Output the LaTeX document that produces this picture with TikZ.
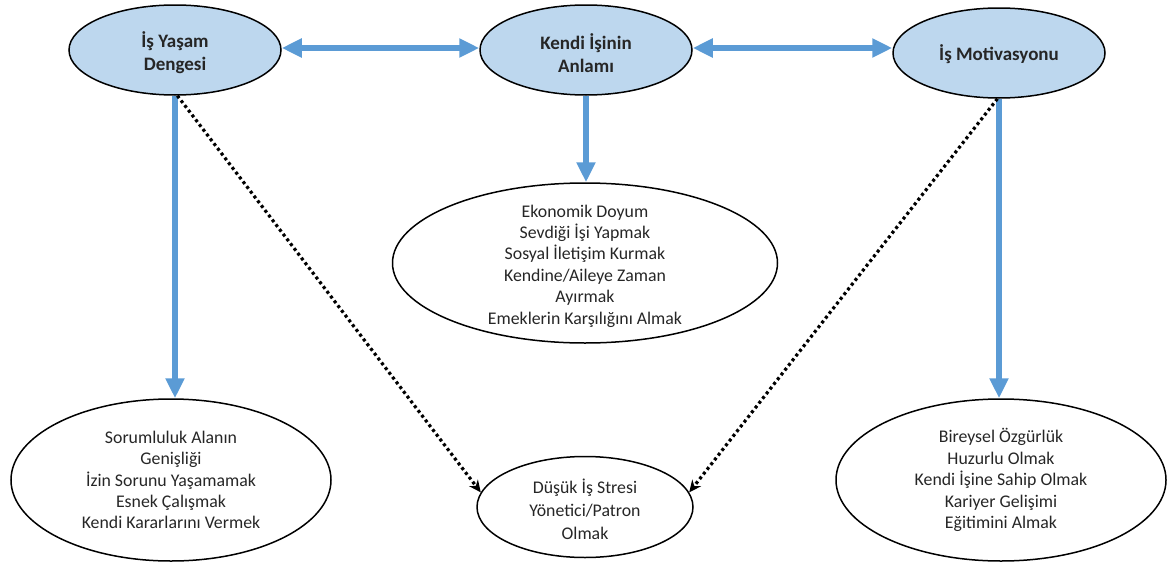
\documentclass[tikz,border=0pt]{standalone}
\usepackage{fontspec}
\setmainfont{Carlito}
\usetikzlibrary{shapes.geometric,arrows.meta}
\definecolor{fillblue}{HTML}{BDD7EE}
\definecolor{arrowblue}{HTML}{5B9BD5}
\definecolor{textgray}{HTML}{262626}
\begin{document}
\begin{tikzpicture}[x=1pt,y=-1pt,
  ell/.style={ellipse, draw=black, line width=1.5pt, inner sep=0pt},
  topell/.style={ell, fill=fillblue, minimum width=212pt, minimum height=90pt},
  txt/.style={align=center, font=\fontsize{17.8}{21.4}\selectfont, text=textgray, inner sep=0pt},
  btxt/.style={txt, font=\fontsize{19}{23}\selectfont\bfseries},
  bluearrow/.style={draw=arrowblue, line width=6pt, -{Triangle[length=20pt,width=18pt]}},
  bluedouble/.style={draw=arrowblue, line width=6pt, {Triangle[length=20pt,width=18pt]}-{Triangle[length=20pt,width=18pt]}},
  dotarrow/.style={draw=black, line width=3.2pt, dash pattern=on 3pt off 3pt, -{Stealth[length=12pt,width=11pt]}}]
\useasboundingbox (0,0) rectangle (1167,562);

% top ellipses
\node[topell] (a) at (175,50) {};
\node[btxt] (ta) at (175,53) {İş Yaşam\\Dengesi};
\node[topell] (b) at (586,50) {};
\node[btxt] (tb) at (586,53) {Kendi İşinin\\Anlamı};
\node[topell] (c) at (999,53) {};
\node[btxt] (tc) at (999,54) {İş Motivasyonu};

% middle ellipse
\node[ell, minimum width=385pt, minimum height=160pt] (m) at (585,263) {};
\node[txt] (tm) at (585,266) {Ekonomik Doyum\\Sevdiği İşi Yapmak\\Sosyal İletişim Kurmak\\Kendine/Aileye Zaman\\Ayırmak\\Emeklerin Karşılığını Almak};

% bottom ellipses
\node[ell, minimum width=320pt, minimum height=162pt] (bl) at (171,480) {};
\node[txt] (tbl) at (171,480) {Sorumluluk Alanın\\Genişliği\\İzin Sorunu Yaşamamak\\Esnek Çalışmak\\Kendi Kararlarını Vermek};
\node[ell, minimum width=216pt, minimum height=101pt] (bc) at (585,507) {};
\node[txt, font=\fontsize{17.8}{23}\selectfont] (tbc) at (585,509) {Düşük İş Stresi\\Yönetici/Patron\\Olmak};
\node[ell, minimum width=330pt, minimum height=162pt] (br) at (1001,480) {};
\node[txt] (tbr) at (1001,480) {Bireysel Özgürlük\\Huzurlu Olmak\\Kendi İşine Sahip Olmak\\Kariyer Gelişimi\\Eğitimini Almak};

% horizontal double arrows
\draw[bluedouble] ([yshift=2pt]a.east) -- ([yshift=2pt]b.west);
\draw[bluedouble] ([yshift=2pt]b.east) -- ([yshift=2pt]b.east -| c.west);

% vertical arrows
\draw[bluearrow] (a.south) -- (a.south |- bl.north);
\draw[bluearrow] (b.south) -- (b.south |- m.north);
\draw[bluearrow] (c.south) -- (c.south |- br.north);

% dotted arrows
\draw[dotarrow] (a.-87) -- (bc.172);
\draw[dotarrow] (c.-92) -- (bc.8);
\end{tikzpicture}
\end{document}
